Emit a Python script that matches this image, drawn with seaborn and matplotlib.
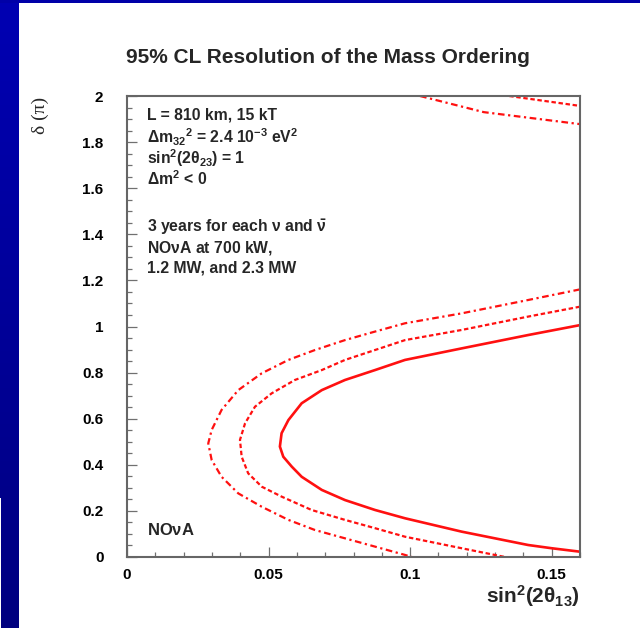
import numpy as np
import pandas as pd
import matplotlib
matplotlib.use("Agg")
import matplotlib.pyplot as plt
from matplotlib.patches import Rectangle
import seaborn as sns

# ---------------- data ----------------
# 700 kW (dash-dot, outer contour)
x_700 = [0.160, 0.1417, 0.1182, 0.0982, 0.0876, 0.0770, 0.0664, 0.0570, 0.0476, 0.0393, 0.0334, 0.0299, 0.0287,
         0.0299, 0.0334, 0.0393, 0.0476, 0.0570, 0.0664, 0.0770, 0.0876, 0.0982, 0.1006]
y_700 = [1.161, 1.115, 1.057, 1.014, 0.978, 0.941, 0.898, 0.855, 0.797, 0.724, 0.638, 0.551, 0.493,
         0.421, 0.348, 0.276, 0.218, 0.161, 0.117, 0.081, 0.045, 0.009, 0.000]
x_700_top = [0.1035, 0.126, 0.160]
y_700_top = [2.000, 1.930, 1.878]

# 1.2 MW (dashed, middle contour)
x_12 = [0.160, 0.1417, 0.1182, 0.0982, 0.0876, 0.0770, 0.0688, 0.0593, 0.0511, 0.0452, 0.0417, 0.0399,
        0.0405, 0.0428, 0.0476, 0.0546, 0.0652, 0.0770, 0.0876, 0.0982, 0.1182, 0.1335]
y_12 = [1.086, 1.043, 0.985, 0.941, 0.898, 0.855, 0.811, 0.768, 0.710, 0.652, 0.580, 0.508,
        0.435, 0.363, 0.305, 0.262, 0.204, 0.161, 0.125, 0.088, 0.038, 0.000]
x_12_top = [0.135, 0.160]
y_12_top = [2.000, 1.957]

# 2.3 MW (solid, inner contour)
x_23 = [0.160, 0.1417, 0.1182, 0.0982, 0.0876, 0.0770, 0.0688, 0.0617, 0.0570, 0.0546, 0.0540,
        0.0552, 0.0582, 0.0617, 0.0688, 0.0770, 0.0876, 0.0982, 0.1182, 0.1417, 0.150, 0.160]
y_23 = [1.006, 0.963, 0.905, 0.855, 0.811, 0.768, 0.724, 0.667, 0.594, 0.537, 0.479,
        0.435, 0.392, 0.348, 0.291, 0.247, 0.204, 0.168, 0.110, 0.052, 0.038, 0.023]

xticks = [0, 0.05, 0.1, 0.15]
xtick_labels = ["0", "0.05", "0.1", "0.15"]
yticks = [0, 0.2, 0.4, 0.6, 0.8, 1.0, 1.2, 1.4, 1.6, 1.8, 2.0]
ytick_labels = ["0", "0.2", "0.4", "0.6", "0.8", "1", "1.2", "1.4", "1.6", "1.8", "2"]

info_lines = [
    "L = 810 km, 15 kT",
    r"$\Delta$m$_{32}{}^{2}$ = 2.4 10$^{-3}$ eV$^{2}$",
    r"sin$^{2}$(2$\theta_{23}$) = 1",
    r"$\Delta$m$^{2}$ < 0",
]
info_lines2 = [
    r"3 years for each $\nu$ and $\bar{\nu}$",
    r"NO$\nu$A at 700 kW,",
    "1.2 MW, and 2.3 MW",
]

# ---------------- style ----------------
sns.set_theme(style="white")
plt.rcParams["font.family"] = ["Liberation Sans", "DejaVu Sans"]
plt.rcParams["font.weight"] = "bold"
plt.rcParams["mathtext.fontset"] = "custom"
plt.rcParams["mathtext.rm"] = "Liberation Sans:bold"
plt.rcParams["mathtext.it"] = "Liberation Sans:bold"
plt.rcParams["mathtext.bf"] = "Liberation Sans:bold"
plt.rcParams["mathtext.sf"] = "Liberation Sans:bold"

W, H = 640, 628
fig = plt.figure(figsize=(W / 100, H / 100), dpi=100)
fig.patch.set_facecolor("white")

# blue slide border
bax = fig.add_axes([0, 0, 19 / W, 1])
grad = np.linspace(0.70, 0.50, 256).reshape(-1, 1)
rgb = np.zeros((256, 1, 3))
rgb[..., 2] = grad
bax.imshow(rgb, aspect="auto", extent=[0, 1, 0, 1])
bax.set_axis_off()
fig.patches.append(Rectangle((0, 0), 1 / W, (H - 498) / H, transform=fig.transFigure,
                             facecolor="white", edgecolor="none", zorder=10))
tax = fig.add_axes([0, 1 - 3 / H, 1, 3 / H])
tax.set_facecolor("#0000a8")
tax.set_xticks([]); tax.set_yticks([])
for s in tax.spines.values():
    s.set_visible(False)

ax = fig.add_axes([127 / W, 1 - 557 / H, (580 - 127) / W, (557 - 96) / H])
ax.set_facecolor("white")

red = "#ff1010"
def draw(xs, ys, **kw):
    df = pd.DataFrame({"x": xs, "y": ys})
    sns.lineplot(data=df, x="x", y="y", sort=False, estimator=None, ax=ax,
                 color=red, **kw)

dd = (0, (3.0, 1.6, 1.0, 1.6))
ds = (0, (2.0, 1.2))
draw(x_700, y_700, lw=1.6, linestyle=dd)
draw(x_700_top, y_700_top, lw=1.6, linestyle=dd)
draw(x_12, y_12, lw=1.6, linestyle=ds)
draw(x_12_top, y_12_top, lw=1.6, linestyle=ds)
draw(x_23, y_23, lw=1.9, linestyle="-")

ax.set_xlim(0, 0.16)
ax.set_ylim(0, 2)
ax.set_xlabel("")
ax.set_ylabel("")

ax.set_xticks(xticks)
ax.set_xticklabels(xtick_labels)
ax.set_yticks(yticks)
ax.set_yticklabels(ytick_labels)
ax.set_xticks(np.arange(0, 0.1601, 0.01), minor=True)
ax.set_yticks(np.arange(0, 2.001, 0.05), minor=True)

tick_col = "#707070"
ax.tick_params(which="both", direction="in", color=tick_col, width=0.9,
               top=False, right=False, left=True, bottom=True)
ax.tick_params(which="major", length=7.2)
ax.tick_params(which="minor", length=3.6)
ax.tick_params(axis="x", which="major", pad=8, labelsize=11, labelcolor="black")
ax.tick_params(axis="y", which="major", pad=17, labelsize=11, labelcolor="black")
for lab in ax.get_xticklabels() + ax.get_yticklabels():
    lab.set_fontweight("bold")
for s in ax.spines.values():
    s.set_visible(True)
    s.set_color("#666666")
    s.set_linewidth(1.5)

# text block
ys_info = [115, 137, 158, 179]
for t, yp in zip(info_lines, ys_info):
    fig.text(147 / W, 1 - yp / H, t, fontsize=11.3, fontweight="bold",
             va="center", ha="left")
ys_info2 = [227, 248, 268]
for t, yp in zip(info_lines2, ys_info2):
    fig.text(147 / W, 1 - yp / H, t, fontsize=11.3, fontweight="bold",
             va="center", ha="left")
fig.text(147 / W, 1 - 530 / H, r"NO$\nu$A", fontsize=12,
         fontweight="bold", va="center", ha="left")

# title and axis labels
fig.text(328 / W, 1 - 63 / H, "95% CL Resolution of the Mass Ordering",
         fontsize=15, fontweight="bold", ha="center", va="baseline")
fig.text(580 / W, 1 - 603 / H, r"sin$^{2}$(2$\theta_{13}$)", fontsize=15,
         ha="right", va="baseline")
fig.text(40 / W, 1 - 115 / H, "δ (π)", fontsize=14, rotation=90,
         family=["Liberation Serif", "DejaVu Serif"], fontweight="normal",
         ha="center", va="center")

fig.savefig("out.png", dpi=100, facecolor="white")
